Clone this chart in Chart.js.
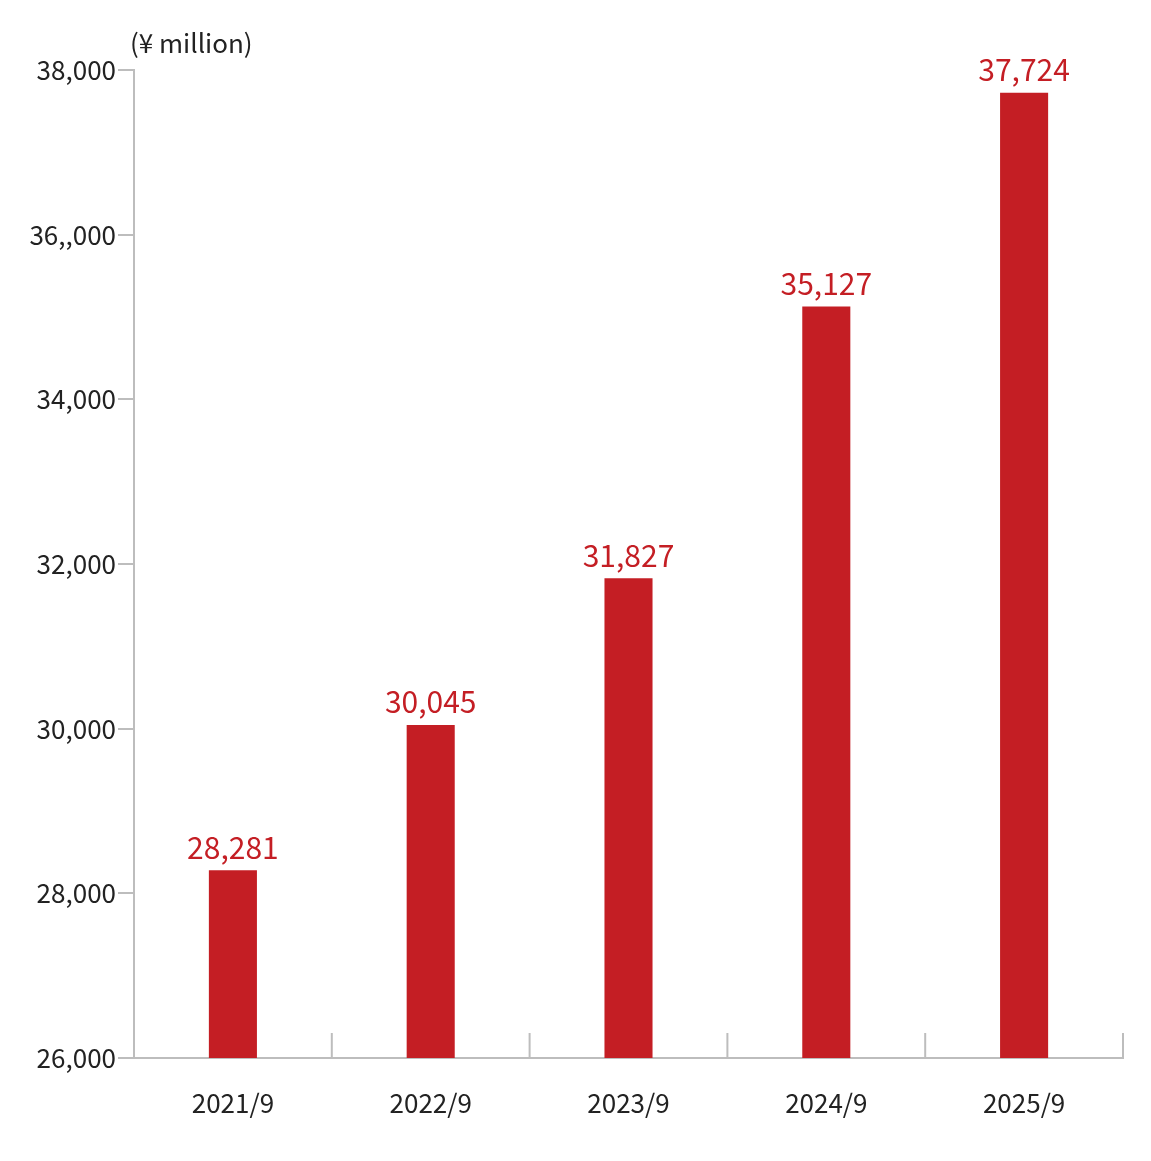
<!DOCTYPE html>
<html lang="en">
<head>
<meta charset="UTF-8">
<title>Revenue chart</title>
<script src="https://cdn.jsdelivr.net/npm/chart.js"></script>
<style>
  body { margin: 0; background: #fff; }
  #wrap { width: 1151px; height: 1161px; position: relative; }
</style>
</head>
<body>
<div id="wrap"><canvas id="chart"></canvas></div>
<script>
const years = ['2021/9', '2022/9', '2023/9', '2024/9', '2025/9'];
const sales = [28281, 30045, 31827, 35127, 37724];
const tickLabels = ['26,000', '28,000', '30,000', '32,000', '34,000', '36,,000', '38,000'];
const unitLabel = '(¥ million)';

const FONT = '"Noto Sans CJK JP", "Noto Sans", sans-serif';
const RED = '#c41e24';
const GREY = '#bdbdbd';

// value labels above bars + unit label + upward x ticks
const extras = {
  id: 'extras',
  afterDatasetsDraw(chart) {
    const ctx = chart.ctx;
    const meta = chart.getDatasetMeta(0);
    ctx.save();
    ctx.font = '30px ' + FONT;
    ctx.fillStyle = RED;
    ctx.textAlign = 'center';
    ctx.textBaseline = 'bottom';
    meta.data.forEach((bar, i) => {
      ctx.fillText(sales[i].toLocaleString('en-US'), bar.x, bar.y - 8);
    });
    ctx.font = '26px ' + FONT;
    ctx.fillStyle = '#222';
    ctx.textAlign = 'left';
    ctx.textBaseline = 'middle';
    ctx.fillText(unitLabel, 130, 43);
    const x = chart.scales.x, area = chart.chartArea;
    ctx.strokeStyle = GREY;
    ctx.lineWidth = 2;
    for (let i = 1; i <= years.length; i++) {
      const px = (x.getPixelForTick(i - 1) + (i < years.length ? x.getPixelForTick(i) : area.right + (area.right - x.getPixelForTick(i - 1)))) / 2;
      const gx = i < years.length ? px : area.right;
      ctx.beginPath();
      ctx.moveTo(gx, area.bottom);
      ctx.lineTo(gx, area.bottom - 25);
      ctx.stroke();
    }
    ctx.restore();
  }
};

new Chart(document.getElementById('chart'), {
  type: 'bar',
  data: {
    labels: years,
    datasets: [{
      data: sales,
      backgroundColor: RED,
      barPercentage: 0.243,
      categoryPercentage: 1
    }]
  },
  options: {
    responsive: true,
    maintainAspectRatio: false,
    animation: false,
    layout: { padding: { top: 70, right: 28, left: 0, bottom: 0 } },
    plugins: { legend: { display: false }, tooltip: { enabled: false } },
    scales: {
      x: {
        afterFit(s) { s.height = 103; },
        grid: { display: false },
        border: { color: GREY, width: 2 },
        ticks: { color: '#222', font: { family: FONT, size: 26 }, padding: 22 }
      },
      y: {
        min: 26000, max: 38000,
        afterFit(s) { s.width = 134; },
        afterBuildTicks(s) { s.ticks = tickLabels.map((t, i) => ({ value: 26000 + i * 2000 })); },
        grid: { drawOnChartArea: false, color: GREY, lineWidth: 2, tickLength: 16 },
        border: { color: GREY, width: 2 },
        ticks: {
          color: '#222', font: { family: FONT, size: 26 }, padding: 2,
          callback: (v) => tickLabels[(v - 26000) / 2000]
        }
      }
    }
  },
  plugins: [extras]
});
</script>
</body>
</html>
